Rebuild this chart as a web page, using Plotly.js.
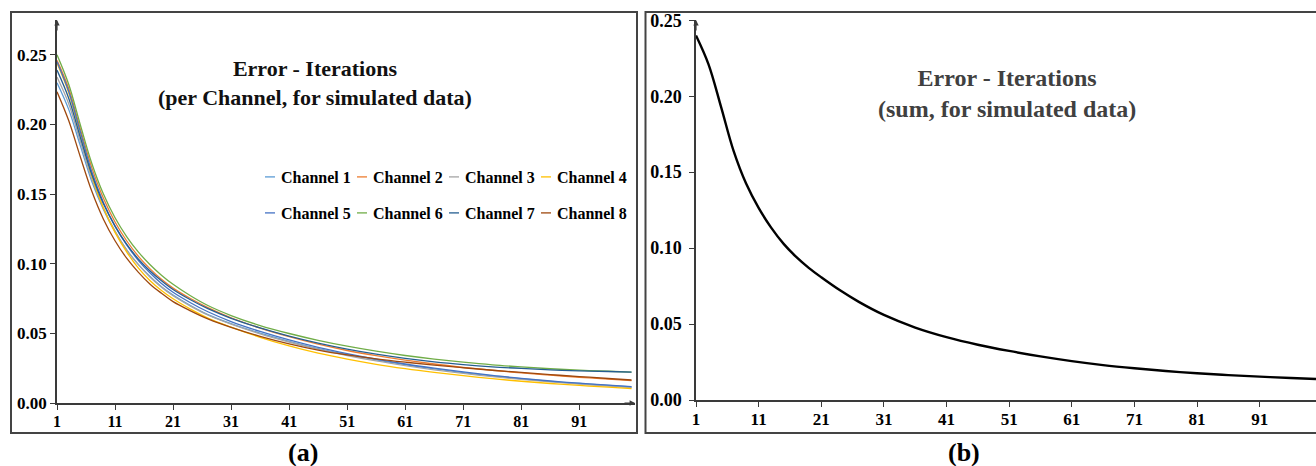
<!DOCTYPE html>
<html>
<head>
<meta charset="utf-8">
<script src="https://cdn.plot.ly/plotly-3.0.1.min.js"></script>
<style>
  html, body { margin: 0; padding: 0; background: #ffffff; }
  #chart { width: 1316px; height: 466px; }
  /* short legend keys, as in the reference */
  #chart .legendlines path { stroke-dasharray: 10px 100px !important; stroke-dashoffset: -19px !important; }
</style>
</head>
<body>
<div id="chart"></div>
<script>
// ---- Data ----
const iterations = [1, 3, 5, 7, 9, 11, 13, 15, 17, 19, 21, 24, 27, 31, 36, 41, 46, 51, 56, 61, 66, 71, 76, 81, 86, 91, 96, 100];

const channel1 = [0.230, 0.211, 0.185, 0.159, 0.139, 0.123, 0.110, 0.0995, 0.091, 0.0835, 0.0775, 0.070, 0.0635, 0.057, 0.0502, 0.0443, 0.039, 0.0347, 0.031, 0.0275, 0.0245, 0.0218, 0.0195, 0.0174, 0.0155, 0.014, 0.0126, 0.0115];
const channel2 = [0.246, 0.226, 0.197, 0.169, 0.147, 0.130, 0.1165, 0.1055, 0.0965, 0.0888, 0.0825, 0.075, 0.0685, 0.0612, 0.0538, 0.0476, 0.0422, 0.0377, 0.034, 0.0308, 0.028, 0.0256, 0.0235, 0.0216, 0.020, 0.0185, 0.0171, 0.016];
const channel3 = [0.234, 0.215, 0.188, 0.161, 0.140, 0.1235, 0.110, 0.0995, 0.0905, 0.0832, 0.077, 0.0696, 0.0632, 0.0566, 0.0497, 0.0438, 0.0386, 0.0341, 0.0302, 0.0268, 0.0238, 0.0212, 0.019, 0.017, 0.0152, 0.0136, 0.0122, 0.011];
const channel4 = [0.244, 0.223, 0.193, 0.163, 0.140, 0.1225, 0.1085, 0.097, 0.088, 0.0808, 0.0748, 0.0674, 0.061, 0.0545, 0.0472, 0.041, 0.0358, 0.0315, 0.0278, 0.0247, 0.022, 0.0196, 0.0175, 0.0156, 0.014, 0.0126, 0.0114, 0.0103];
const channel5 = [0.245, 0.224, 0.195, 0.166, 0.144, 0.127, 0.1135, 0.1025, 0.0935, 0.0858, 0.0795, 0.072, 0.0655, 0.0585, 0.0514, 0.0453, 0.040, 0.0355, 0.0315, 0.028, 0.025, 0.0223, 0.0198, 0.0177, 0.0158, 0.0142, 0.0128, 0.0117];
const channel6 = [0.250, 0.229, 0.200, 0.172, 0.150, 0.133, 0.1195, 0.1085, 0.0995, 0.0918, 0.0852, 0.077, 0.070, 0.0628, 0.0556, 0.0499, 0.045, 0.0408, 0.0372, 0.0341, 0.0315, 0.0293, 0.0274, 0.0259, 0.0246, 0.0236, 0.0228, 0.0222];
const channel7 = [0.239, 0.219, 0.191, 0.164, 0.143, 0.127, 0.114, 0.1035, 0.095, 0.0878, 0.0815, 0.0741, 0.0677, 0.0608, 0.0539, 0.048, 0.043, 0.0387, 0.0351, 0.0321, 0.0296, 0.0276, 0.026, 0.0248, 0.0238, 0.0231, 0.0226, 0.0222];
const channel8 = [0.2235, 0.203, 0.177, 0.152, 0.132, 0.1165, 0.104, 0.094, 0.0855, 0.0788, 0.0728, 0.0662, 0.0604, 0.0543, 0.0479, 0.0425, 0.038, 0.0345, 0.0317, 0.0293, 0.0272, 0.0253, 0.0235, 0.022, 0.0204, 0.019, 0.0176, 0.0165];

const sumError = [0.240, 0.221, 0.193, 0.164, 0.1425, 0.1265, 0.1135, 0.1028, 0.0942, 0.0870, 0.0808, 0.0722, 0.0646, 0.0560, 0.0477, 0.0414, 0.0364, 0.0323, 0.0287, 0.0256, 0.023, 0.0209, 0.0191, 0.0176, 0.0164, 0.0154, 0.0145, 0.0138];

const channelNames = ["Channel 1", "Channel 2", "Channel 3", "Channel 4", "Channel 5", "Channel 6", "Channel 7", "Channel 8"];
const channelSeries = [channel1, channel2, channel3, channel4, channel5, channel6, channel7, channel8];
const channelColors = ["#5B9BD5", "#ED7D31", "#A5A5A5", "#FFC000", "#4472C4", "#70AD47", "#255E91", "#9E480E"];

const xTicks = [1, 11, 21, 31, 41, 51, 61, 71, 81, 91];
const yTicks = [0, 0.05, 0.10, 0.15, 0.20, 0.25];

// ---- Traces ----
const traces = channelSeries.map((vals, k) => {
  const t = {
    type: "scatter",
    mode: "lines",
    x: iterations,
    y: vals,
    name: channelNames[k],
    line: { color: channelColors[k], width: 1.3, shape: "spline", smoothing: 1 },
    xaxis: "x",
    yaxis: "y",
    legend: k < 4 ? "legend" : "legend2"
  };
  if (k === 3 || k === 7) t.legendwidth = 85;
  return t;
});

traces.push({
  type: "scatter",
  mode: "lines",
  x: iterations,
  y: sumError,
  name: "Sum",
  showlegend: false,
  line: { color: "#000000", width: 2.4, shape: "spline", smoothing: 1 },
  xaxis: "x2",
  yaxis: "y2"
});

// ---- Layout ----
const W = 1316, H = 466;
const px = v => v / W;
const py = v => 1 - v / H;

const serif = "Liberation Serif, Times New Roman, serif";
const axisColor = "#3a3a3a";

function xAxisCfg(domain, range, size) {
  return {
    domain: domain, range: range,
    tickvals: xTicks, ticktext: xTicks.map(String),
    showline: true, linecolor: axisColor, linewidth: 1.5,
    ticks: "outside", ticklen: 5, tickwidth: 1.2, tickcolor: axisColor,
    ticklabelstandoff: -2,
    showgrid: false, zeroline: false,
    tickfont: { family: serif, size: size, color: "#000", weight: "bold" },
    fixedrange: true
  };
}
function yAxisCfg(domain, range, size) {
  return {
    domain: domain, range: range,
    tickvals: yTicks, tickformat: ".2f",
    showline: true, linecolor: axisColor, linewidth: 1.5,
    ticks: "outside", ticklen: 5, tickwidth: 1.2, tickcolor: axisColor,
    showgrid: false, zeroline: false,
    tickfont: { family: serif, size: size, color: "#000", weight: "bold" },
    fixedrange: true
  };
}

const legendFont = { family: serif, size: 16, color: "#000", weight: "bold" };

const layout = {
  width: W, height: H,
  margin: { l: 0, r: 0, t: 0, b: 0, pad: 0 },
  paper_bgcolor: "#ffffff",
  plot_bgcolor: "rgba(0,0,0,0)",
  showlegend: true,
  xaxis: xAxisCfg([px(57), px(635)], [1, 100.6], 16),
  yaxis: Object.assign(yAxisCfg([py(403), py(20)], [0, 0.275], 17), { anchor: "x" }),
  xaxis2: Object.assign(xAxisCfg([px(696), 1], [1, 100], 17), { anchor: "y2" }),
  yaxis2: Object.assign(yAxisCfg([py(400), py(20)], [0, 0.2502], 18), { anchor: "x2", ticklabelstandoff: 4 }),
  legend: {
    orientation: "h", x: px(241), y: py(177), xanchor: "left", yanchor: "middle",
    font: legendFont, bgcolor: "rgba(0,0,0,0)", entrywidth: 47, entrywidthmode: "pixels",
    itemclick: false, itemdoubleclick: false
  },
  legend2: {
    orientation: "h", x: px(241), y: py(213), xanchor: "left", yanchor: "middle",
    font: legendFont, bgcolor: "rgba(0,0,0,0)", entrywidth: 47, entrywidthmode: "pixels",
    itemclick: false, itemdoubleclick: false
  },
  shapes: [
    { type: "rect", xref: "paper", yref: "paper", x0: px(11), x1: px(637), y0: py(433), y1: py(12),
      line: { color: "#444", width: 2 }, fillcolor: "rgba(0,0,0,0)", layer: "below" },
    { type: "rect", xref: "paper", yref: "paper", x0: px(645.5), x1: 1.01, y0: py(433), y1: py(12),
      line: { color: "#444", width: 2 }, fillcolor: "rgba(0,0,0,0)", layer: "below" }
  ],
  annotations: [
    { xref: "paper", yref: "paper", x: px(315), y: py(83), xanchor: "center", yanchor: "middle",
      text: "Error - Iterations<br>(per Channel, for simulated data)", showarrow: false,
      font: { family: serif, size: 22, color: "#111", weight: "bold" } },
    { xref: "paper", yref: "paper", x: px(1007), y: py(93), xanchor: "center", yanchor: "middle",
      text: "Error - Iterations<br>(sum, for simulated data)", showarrow: false,
      font: { family: serif, size: 24, color: "#404040", weight: "bold" } },
    { xref: "paper", yref: "paper", x: px(303), y: py(452), xanchor: "center", yanchor: "middle",
      text: "(a)", showarrow: false, font: { family: serif, size: 26, color: "#000", weight: "bold" } },
    { xref: "paper", yref: "paper", x: px(964), y: py(452), xanchor: "center", yanchor: "middle",
      text: "(b)", showarrow: false, font: { family: serif, size: 26, color: "#000", weight: "bold" } },
    // axis arrowheads
    { xref: "x", yref: "y", x: 1, y: 0.275, ax: 0, ay: 12, text: "", showarrow: true,
      arrowhead: 2, arrowsize: 0.9, arrowwidth: 1.2, arrowcolor: axisColor, standoff: 0 },
    { xref: "x", yref: "y", x: 100.6, y: 0, ax: -12, ay: 0, text: "", showarrow: true,
      arrowhead: 2, arrowsize: 0.9, arrowwidth: 1.2, arrowcolor: axisColor, standoff: 0 },
    { xref: "x2", yref: "y2", x: 1, y: 0.2502, ax: 0, ay: 12, text: "", showarrow: true,
      arrowhead: 2, arrowsize: 0.9, arrowwidth: 1.2, arrowcolor: axisColor, standoff: 0 }
  ]
};

Plotly.newPlot("chart", traces, layout, { displayModeBar: false, responsive: false });
</script>
</body>
</html>
